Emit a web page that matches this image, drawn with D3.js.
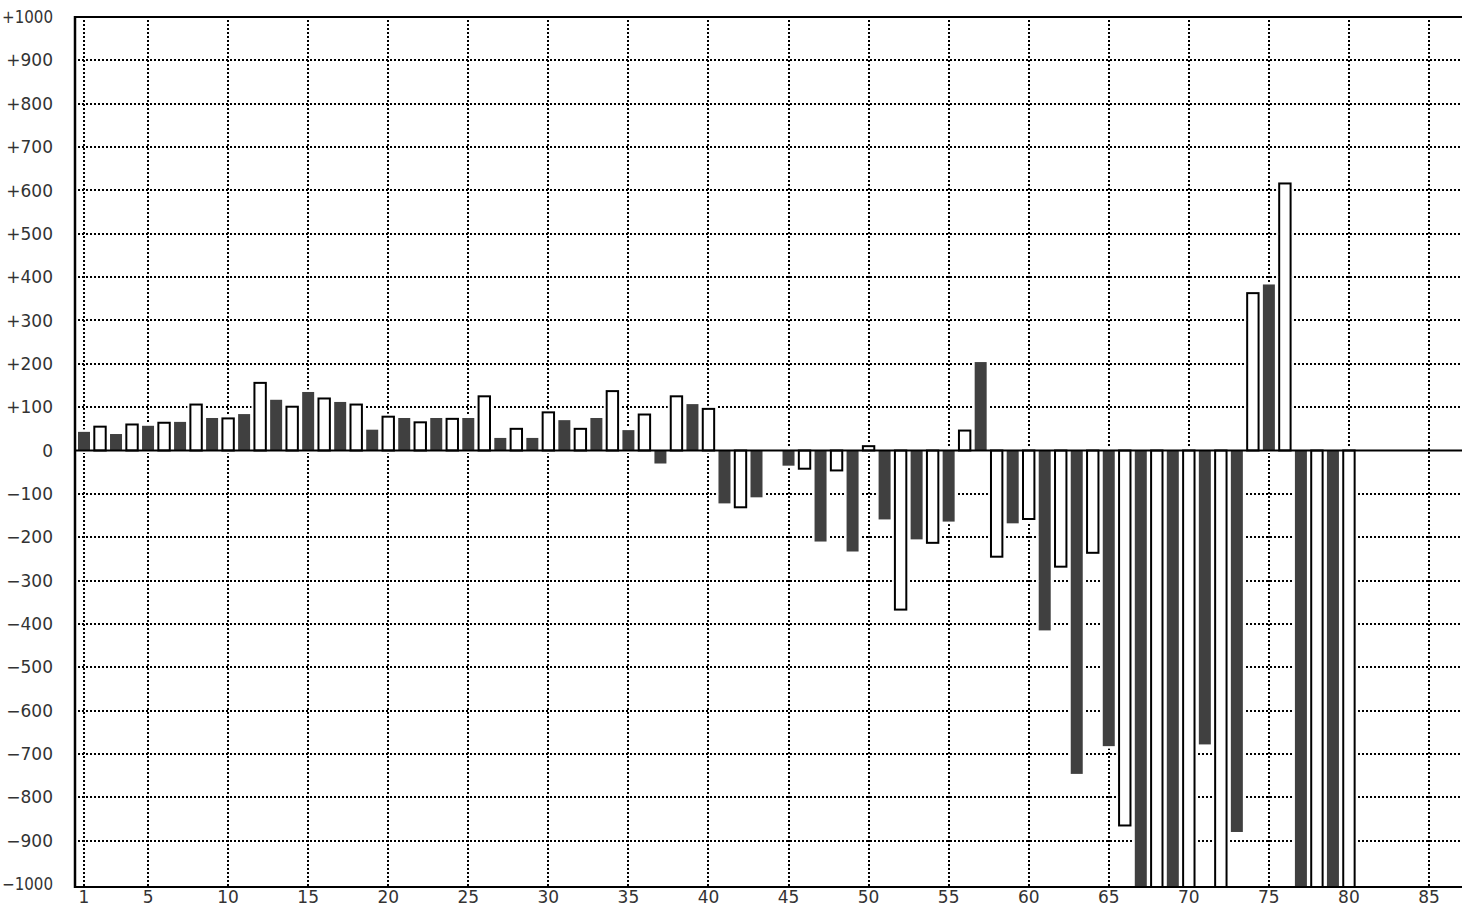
<!DOCTYPE html>
<html>
<head>
<meta charset="utf-8">
<script src="https://cdn.jsdelivr.net/npm/d3@7"></script>
<style>
  html, body { margin: 0; padding: 0; background: #fff; }
  svg { display: block; }
  text { font-family: "DejaVu Sans", Verdana, sans-serif; font-size: 17px; fill: #333; }
</style>
</head>
<body>
<svg id="chart" width="1462" height="908"></svg>
<script>
// ---- data ----
// dark series: positions 1,3,5,...,79
const darkPositions = [1,3,5,7,9,11,13,15,17,19,21,23,25,27,29,31,33,35,37,39,
                       41,43,45,47,49,51,53,55,57,59,61,63,65,67,69,71,73,75,77,79];
const darkValues = [43,38,57,66,75,84,117,135,112,48,75,75,75,29,29,70,75,47,-30,107,
                    -122,-108,-35,-210,-233,-159,-205,-164,204,-168,-415,-746,-682,-1150,-1150,-678,-880,383,-1150,-1150];
// white (outlined) series: positions 2,4,...,80
const whitePositions = [2,4,6,8,10,12,14,16,18,20,22,24,26,28,30,32,34,36,38,40,
                        42,44,46,48,50,52,54,56,58,60,62,64,66,68,70,72,74,76,78,80];
const whiteValues = [55,60,64,106,74,156,101,120,106,78,65,73,125,50,88,50,137,83,125,96,
                     -131,0,-42,-46,10,-367,-213,46,-245,-158,-268,-236,-865,-1150,-1150,-1150,363,616,-1150,-1150];
const xTicks = [1,5,10,15,20,25,30,35,40,45,50,55,60,65,70,75,80,85];
const yTicks = [-1000,-900,-800,-700,-600,-500,-400,-300,-200,-100,0,100,200,300,400,500,600,700,800,900,1000];

// ---- layout ----
const svg = d3.select("#chart");
const W = 1462, H = 908;
const plotL = 74, plotT = 16, plotB = 887, plotR = W;
const x = d3.scaleLinear().domain([1, 85]).range([84, 1429]);
const y = d3.scaleLinear().domain([-1000, 1000]).range([884, 17]);
const barW = 12;

const fmt = v => v > 0 ? "+" + v : (v < 0 ? "\u2212" + Math.abs(v) : "0");

svg.append("defs").append("clipPath").attr("id", "plotclip")
  .append("rect").attr("x", plotL).attr("y", plotT).attr("width", plotR - plotL).attr("height", plotB - plotT);

// grid
const grid = svg.append("g").attr("clip-path", "url(#plotclip)");
grid.selectAll("line.h").data(yTicks.filter(v => v !== 0 && Math.abs(v) < 1000)).join("line")
  .attr("x1", plotL).attr("x2", plotR)
  .attr("y1", d => Math.round(y(d))).attr("y2", d => Math.round(y(d)))
  .attr("stroke", "#000").attr("stroke-width", 2).attr("stroke-dasharray", "2,2");
grid.selectAll("line.v").data(xTicks).join("line")
  .attr("x1", d => Math.round(x(d))).attr("x2", d => Math.round(x(d)))
  .attr("y1", plotT).attr("y2", plotB)
  .attr("stroke", "#000").attr("stroke-width", 2).attr("stroke-dasharray", "2,2");

// bars
const darkData = darkPositions.map((p, i) => ({ p, v: darkValues[i] }));
const whiteData = whitePositions.map((p, i) => ({ p, v: whiteValues[i] }));
const bars = svg.append("g").attr("clip-path", "url(#plotclip)");

function rectAttrs(sel, inset) {
  sel.attr("x", d => x(d.p) - barW / 2 + inset)
     .attr("width", barW - 2 * inset)
     .attr("y", d => Math.min(y(d.v), y(0)))
     .attr("height", d => Math.abs(y(d.v) - y(0)));
}
// white halos
bars.selectAll("rect.halo-d").data(darkData).join("rect").call(rectAttrs, 0)
  .attr("fill", "#fff").attr("stroke", "#fff").attr("stroke-width", 5);
bars.selectAll("rect.halo-w").data(whiteData.filter(d => d.v !== 0)).join("rect").call(rectAttrs, 0.3)
  .attr("fill", "#fff").attr("stroke", "#fff").attr("stroke-width", 6);
// actual bars
bars.selectAll("rect.dark").data(darkData).join("rect").call(rectAttrs, 0)
  .attr("fill", "#404040");
bars.selectAll("rect.white").data(whiteData.filter(d => d.v !== 0)).join("rect").call(rectAttrs, 0.3)
  .attr("fill", "#fff").attr("stroke", "#000").attr("stroke-width", 2);

// zero line
svg.append("line").attr("x1", plotL).attr("x2", plotR)
  .attr("y1", y(0)).attr("y2", y(0)).attr("stroke", "#000").attr("stroke-width", 2);

// frame
svg.append("line").attr("x1", plotL).attr("x2", plotR).attr("y1", 17).attr("y2", 17)
  .attr("stroke", "#000").attr("stroke-width", 2);
svg.append("line").attr("x1", plotL).attr("x2", plotR).attr("y1", plotB).attr("y2", plotB)
  .attr("stroke", "#000").attr("stroke-width", 2);
svg.append("line").attr("x1", 75).attr("x2", 75).attr("y1", plotT).attr("y2", plotB + 1)
  .attr("stroke", "#000").attr("stroke-width", 2.5);

// y labels
svg.append("g").selectAll("text").data(yTicks).join("text")
  .attr("x", 53).attr("y", d => y(d)).attr("dy", "0.36em")
  .attr("text-anchor", "end")
  .each(function (d) {
    if (Math.abs(d) === 1000) {
      d3.select(this).attr("textLength", 51).attr("lengthAdjust", "spacingAndGlyphs");
    }
  })
  .text(d => fmt(d));

// x labels
svg.append("g").selectAll("text").data(xTicks).join("text")
  .attr("x", d => x(d)).attr("y", 903)
  .attr("text-anchor", "middle")
  .text(d => d);
</script>
</body>
</html>
